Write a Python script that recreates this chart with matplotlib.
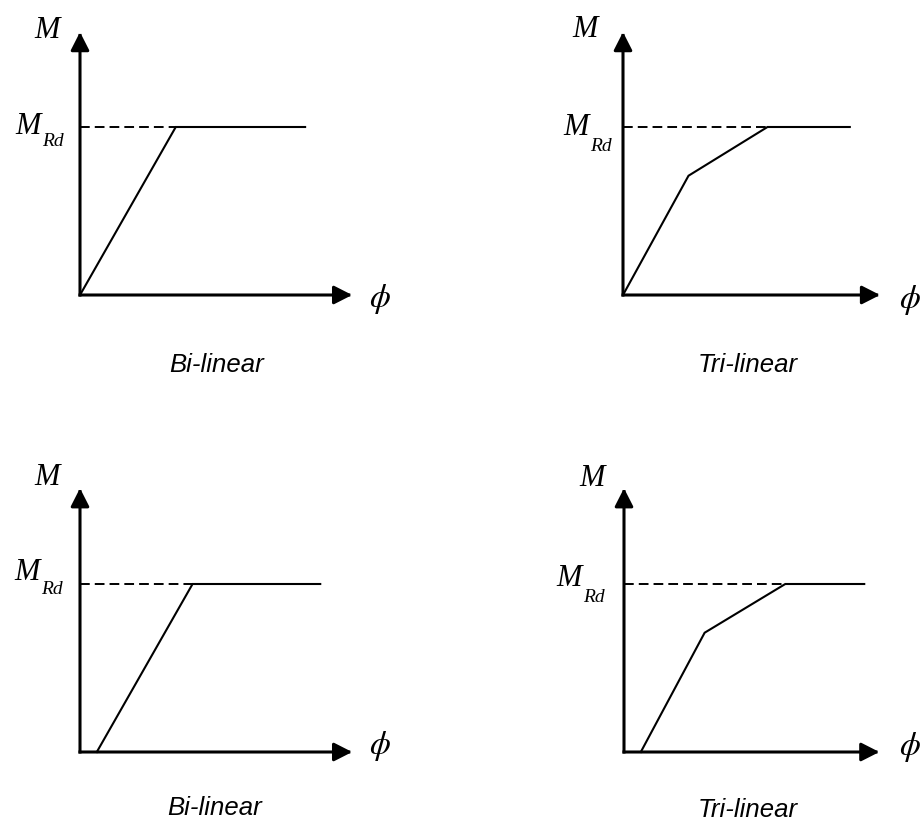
import matplotlib.pyplot as plt

plt.rcParams['mathtext.fontset'] = 'stix'

W, H, DPI = 922, 822, 100
SCALE = 168  # pixels per unit (M / M_Rd)

titles = ['Bi-linear', 'Tri-linear', 'Bi-linear', 'Tri-linear']

# moment-curvature curves, moment normalised by M_Rd
phi_1 = [0.0, 0.57, 1.34]
m_1 = [0.0, 1.0, 1.0]
phi_2 = [0.0, 0.39, 0.86, 1.35]
m_2 = [0.0, 0.71, 1.0, 1.0]
phi_3 = [0.10, 0.67, 1.43]
m_3 = [0.0, 1.0, 1.0]
phi_4 = [0.10, 0.48, 0.96, 1.43]
m_4 = [0.0, 0.71, 1.0, 1.0]
m_rd = 1.0

curves = [(phi_1, m_1), (phi_2, m_2), (phi_3, m_3), (phi_4, m_4)]

# axis lengths
phi_axis = [1.62, 1.53, 1.62, 1.52]
m_axis = [1.565, 1.565, 1.57, 1.57]

# panel origins in pixels (x from left, y from top)
origins = [(80, 295), (623, 295), (80, 752), (624, 752)]

# label offsets in pixels relative to origin
m_label = [(-33, 265), (-38, 266), (-33, 275), (-32, 274)]
mrd_join = [-39, -34, -40, -42]
mrd_main_dy = [1, 0, 12, 6]
mrd_sub_dy = [-14, -19, -5, -13]
phi_label = [(300, -4), (287, -5), (300, 6), (286, 5)]
title_pos = [(137, -70), (125, -70), (135, -56), (124, -58)]

XLIM = (-0.45, 2.0)
YLIM = (-0.5, 1.75)

serif = dict(family='Liberation Serif', style='italic', color='black')


def add_panel(fig, i):
    ox, oy = origins[i]
    left = ox + XLIM[0] * SCALE
    bottom = (H - oy) + YLIM[0] * SCALE
    width = (XLIM[1] - XLIM[0]) * SCALE
    height = (YLIM[1] - YLIM[0]) * SCALE
    ax = fig.add_axes([left / W, bottom / H, width / W, height / H])
    ax.set_xlim(*XLIM)
    ax.set_ylim(*YLIM)
    ax.axis('off')

    arrow = dict(arrowstyle='-|>,head_length=0.55,head_width=0.28',
                 mutation_scale=20, lw=2.2, color='black',
                 shrinkA=0, shrinkB=0, capstyle='projecting')
    ax.annotate('', xy=(phi_axis[i], 0), xytext=(0, 0), arrowprops=arrow,
                annotation_clip=False)
    ax.annotate('', xy=(0, m_axis[i]), xytext=(0, 0), arrowprops=arrow,
                annotation_clip=False)

    phi, m = curves[i]
    ax.plot(phi, m, color='black', lw=1.5, clip_on=False,
            solid_joinstyle='miter')
    # M_Rd reference level up to yield
    yield_phi = phi[m.index(m_rd)]
    ax.plot([0, yield_phi], [m_rd, m_rd], color='black', lw=1.4,
            linestyle=(0, (5.0, 2.6)), clip_on=False)

    px = 1.0 / SCALE
    dx, dy = m_label[i]
    ax.text(dx * px, dy * px, 'M', fontsize=22, ha='center', va='center', **serif)
    j = mrd_join[i] * px
    ax.text(j, m_rd + mrd_main_dy[i] * px, 'M', fontsize=22,
            ha='right', va='center', **serif)
    ax.text(j + 1 * px, m_rd + mrd_sub_dy[i] * px, 'Rd', fontsize=14,
            ha='left', va='center', **serif)

    dx, dy = phi_label[i]
    ax.text(dx * px, dy * px, r'$\phi$', fontsize=24, ha='center', va='center')

    dx, dy = title_pos[i]
    ax.text(dx * px, dy * px, titles[i], fontsize=18.5, ha='center', va='center',
            family='Liberation Sans', style='italic', color='black')
    return ax


def main():
    fig = plt.figure(figsize=(W / DPI, H / DPI), dpi=DPI)
    fig.patch.set_facecolor('white')
    for i in range(4):
        add_panel(fig, i)
    fig.savefig('out.png', dpi=DPI, facecolor='white')
    plt.close(fig)


if __name__ == "__main__":
    main()
